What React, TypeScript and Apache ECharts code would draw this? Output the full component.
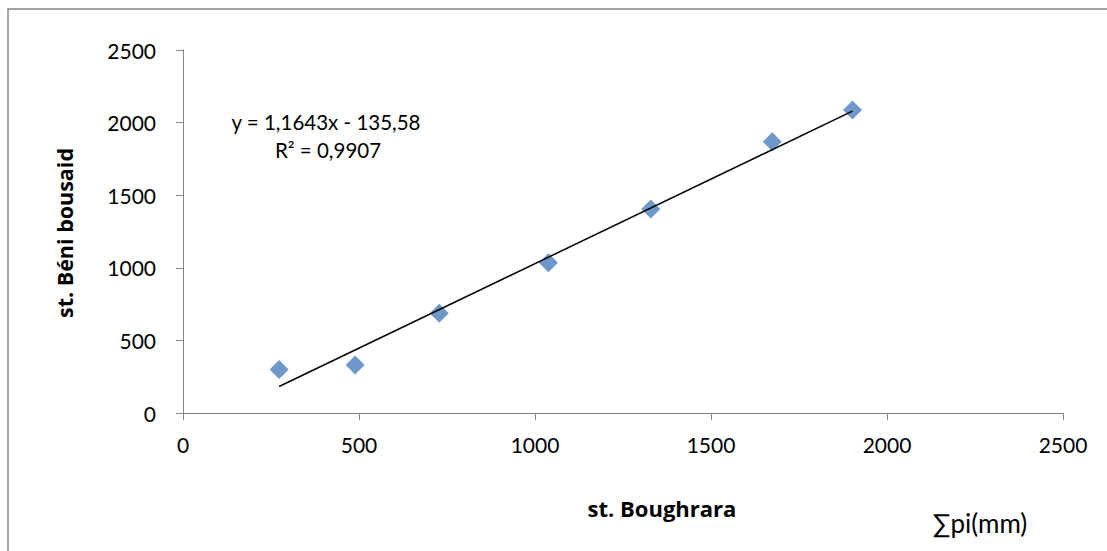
import React, { useEffect, useRef } from "react";
import * as echarts from "echarts";

const boughrara = [273, 489, 728, 1038, 1329, 1674, 1902];
const beniBousaid = [300, 331, 687, 1035, 1405, 1868, 2087];
const slope = 1.1643;
const intercept = -135.58;
const equationLabel = "y = 1,1643x - 135,58";
const r2Label = "R² = 0,9907";
const xAxisTitle = "st. Boughrara";
const yAxisTitle = "st. Béni bousaid";
const unitLabel = "∑pi(mm)";

const FONT = "Lato, 'Open Sans', sans-serif";
const BOLD_FONT = "'Open Sans', Lato, sans-serif";

export default function App() {
  const ref = useRef<HTMLDivElement>(null);
  useEffect(() => {
    if (!ref.current) return;
    const chart = echarts.init(ref.current, undefined, { renderer: "svg" });
    const points = boughrara.map((x, i) => [x, beniBousaid[i]]);
    const xMin = Math.min(...boughrara);
    const xMax = Math.max(...boughrara);
    const trend = [
      [xMin, slope * xMin + intercept],
      [xMax, slope * xMax + intercept],
    ];
    const fmt = (v: number) => String(v);
    chart.setOption({
      animation: false,
      backgroundColor: "#ffffff",
      grid: { left: 183, right: 44, top: 50, bottom: 138, containLabel: false },
      xAxis: {
        type: "value",
        min: 0,
        max: 2500,
        interval: 500,
        axisLine: { show: true, lineStyle: { color: "#868686", width: 1 } },
        axisTick: { show: true, length: 7, lineStyle: { color: "#868686" } },
        splitLine: { show: false },
        axisLabel: { color: "#000", fontSize: 21, fontFamily: FONT, margin: 21, formatter: fmt },
      },
      yAxis: {
        type: "value",
        min: 0,
        max: 2500,
        interval: 500,
        axisLine: { show: true, lineStyle: { color: "#868686", width: 1 } },
        axisTick: { show: true, length: 7, lineStyle: { color: "#868686" } },
        splitLine: { show: false },
        axisLabel: { color: "#000", fontSize: 21, fontFamily: FONT, margin: 27, formatter: fmt },
      },
      series: [
        {
          type: "line",
          data: trend,
          symbol: "none",
          lineStyle: { color: "#000", width: 1.5 },
          z: 3,
        },
        {
          type: "scatter",
          data: points,
          symbol: "diamond",
          symbolSize: 19,
          itemStyle: { color: "#4A7EBB" },
          z: 2,
        },
      ],
      graphic: [
        {
          type: "rect",
          shape: { x: 8, y: 9, width: 1200, height: 600 },
          style: { fill: "none", stroke: "#868686", lineWidth: 1.5 },
          silent: true,
        },
        {
          type: "text",
          x: 64,
          y: 233,
          rotation: Math.PI / 2,
          style: {
            text: yAxisTitle,
            fontSize: 21.5,
            fontWeight: "bold",
            fontFamily: BOLD_FONT,
            fill: "#000",
            align: "center",
            verticalAlign: "middle",
          },
        },
        {
          type: "text",
          x: 662,
          y: 508,
          style: {
            text: xAxisTitle,
            fontSize: 22,
            fontWeight: "bold",
            fontFamily: BOLD_FONT,
            fill: "#000",
            align: "center",
            verticalAlign: "middle",
          },
        },
        {
          type: "text",
          x: 980,
          y: 523,
          style: {
            text: unitLabel,
            fontSize: 26,
            fontFamily: FONT,
            fill: "#000",
            align: "center",
            verticalAlign: "middle",
          },
        },
        {
          type: "text",
          x: 326,
          y: 122,
          style: {
            text: equationLabel,
            fontSize: 20.5,
            fontFamily: FONT,
            fill: "#000",
            align: "center",
            verticalAlign: "middle",
          },
        },
        {
          type: "text",
          x: 328,
          y: 150,
          style: {
            text: r2Label,
            fontSize: 20.5,
            fontFamily: FONT,
            fill: "#000",
            align: "center",
            verticalAlign: "middle",
          },
        },
      ],
    });
    return () => chart.dispose();
  }, []);
  return (
    <div
      ref={ref}
      style={{ position: "fixed", left: 0, top: 0, width: 1107, height: 551 }}
    />
  );
}
